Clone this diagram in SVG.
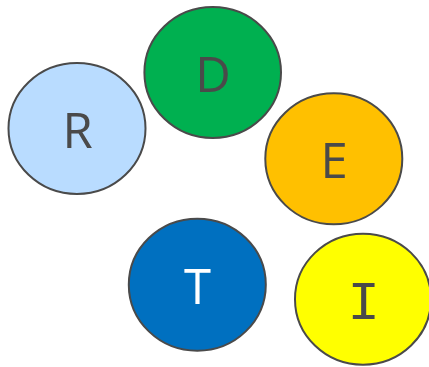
<svg xmlns="http://www.w3.org/2000/svg" width="429" height="367" viewBox="0 0 429 367">
  <style>
    .node ellipse { stroke: #4a4a4a; stroke-width: 2; }
    .node text { font-family: "Open Sans", "Liberation Sans", sans-serif; font-weight: 400; font-size: 49px; fill: #4a4a4a; text-anchor: middle; }
    #node-t text { fill: #ffffff; }
    #node-i text { font-family: "Liberation Mono", monospace; font-weight: 400; font-size: 54px; }
  </style>
  <rect width="429" height="367" fill="#ffffff"/>
  <g id="connectors"></g>
  <g id="node-r" class="node">
    <ellipse cx="77" cy="128.5" rx="68.5" ry="65.5" fill="#b9dcff"/>
    <text x="77.5" y="148">R</text>
  </g>
  <g id="node-d" class="node">
    <ellipse cx="212.7" cy="72.5" rx="68.3" ry="65.5" fill="#00b050"/>
    <text x="213" y="92">D</text>
  </g>
  <g id="node-e" class="node">
    <ellipse cx="333.8" cy="158.8" rx="68.5" ry="65.5" fill="#ffc000"/>
    <text x="334" y="178">E</text>
  </g>
  <g id="node-t" class="node">
    <ellipse cx="197.3" cy="284.7" rx="68.5" ry="66" fill="#0070c0"/>
    <text x="197.5" y="304">T</text>
  </g>
  <g id="node-i" class="node">
    <ellipse cx="363" cy="299.2" rx="68" ry="65.5" fill="#ffff00"/>
    <text x="363.7" y="319">I</text>
  </g>
</svg>
